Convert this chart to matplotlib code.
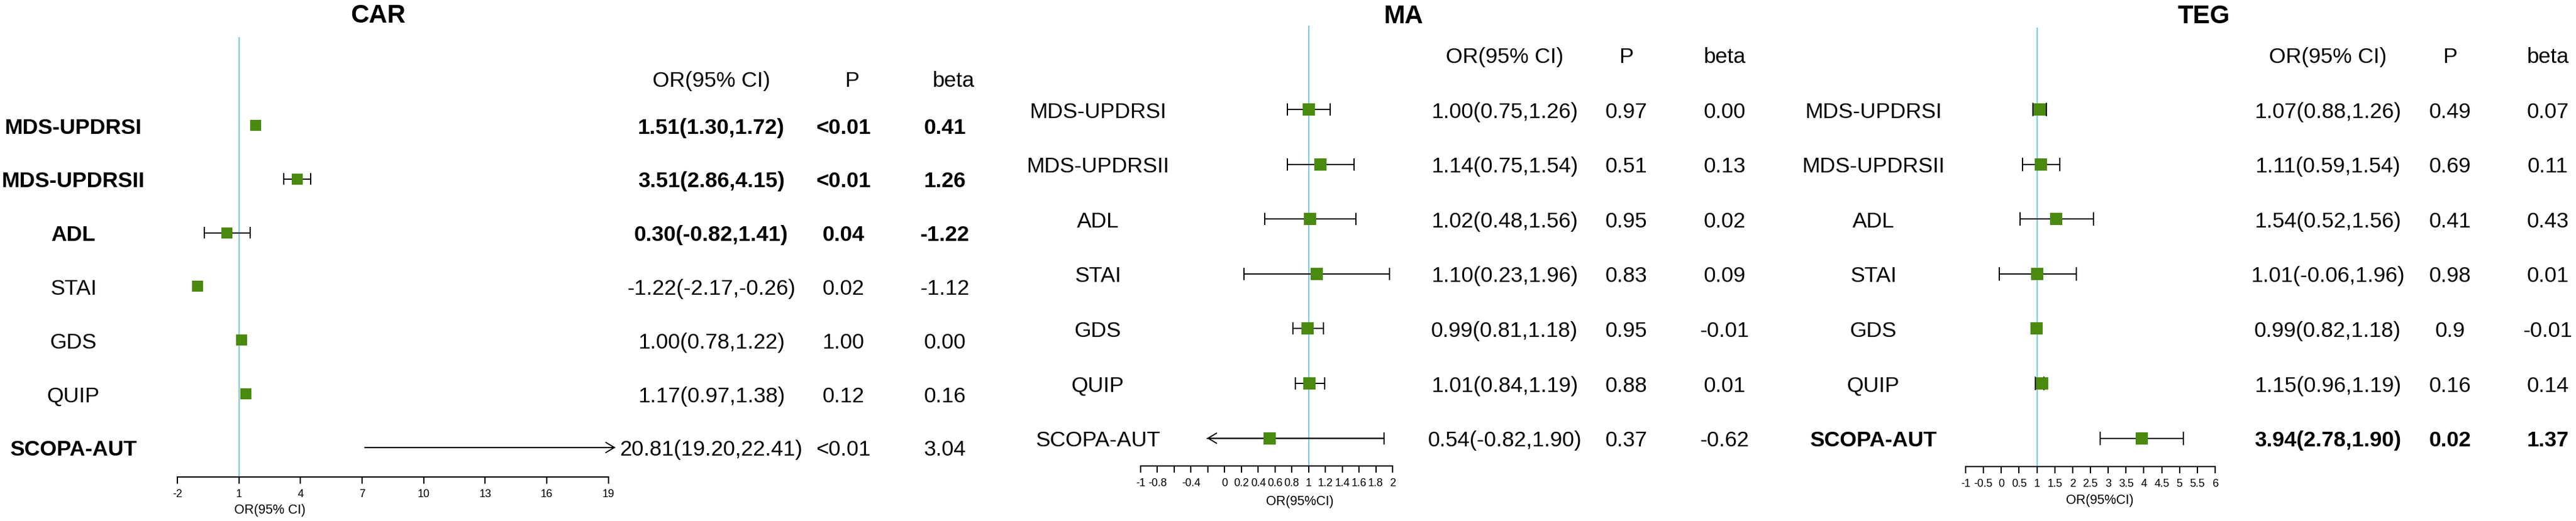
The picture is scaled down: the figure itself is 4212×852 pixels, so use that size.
import numpy as np
import matplotlib
matplotlib.use("Agg")
import matplotlib.pyplot as plt

plt.rcParams['font.family'] = ['Liberation Sans', 'DejaVu Sans']

W, H = 4212, 853

# ---------------- data ----------------
labels = ['MDS-UPDRSI', 'MDS-UPDRSII', 'ADL', 'STAI', 'GDS', 'QUIP', 'SCOPA-AUT']
nan = np.nan

# CAR (marker / whisker positions as drawn in the picture)
car_est = [1.82, 3.84, 0.42, -1.02, 1.12, 1.33, 20.81]
car_lo = [nan, 3.18, -0.70, nan, nan, nan, 7.13]
car_hi = [nan, 4.48, 1.54, nan, nan, nan, 22.41]
car_clip = (-2, 19.35)
car_or = ['1.51(1.30,1.72)', '3.51(2.86,4.15)', '0.30(-0.82,1.41)', '-1.22(-2.17,-0.26)',
          '1.00(0.78,1.22)', '1.17(0.97,1.38)', '20.81(19.20,22.41)']
car_p = ['<0.01', '<0.01', '0.04', '0.02', '1.00', '0.12', '<0.01']
car_beta = ['0.41', '1.26', '-1.22', '-1.12', '0.00', '0.16', '3.04']
car_label_bold = [True, True, True, False, False, False, True]
car_value_bold = [True, True, True, False, False, False, False]
car_ticks = [-2, 1, 4, 7, 10, 13, 16, 19]
car_ticklabels = ['-2', '1', '4', '7', '10', '13', '16', '19']

# MA
ma_est = [1.00, 1.14, 1.02, 1.10, 0.99, 1.01, 0.54]
ma_lo = [0.75, 0.75, 0.48, 0.23, 0.81, 0.84, -0.82]
ma_hi = [1.26, 1.54, 1.56, 1.96, 1.18, 1.19, 1.90]
ma_clip = (-0.21, 2.0)
ma_or = ['1.00(0.75,1.26)', '1.14(0.75,1.54)', '1.02(0.48,1.56)', '1.10(0.23,1.96)',
         '0.99(0.81,1.18)', '1.01(0.84,1.19)', '0.54(-0.82,1.90)']
ma_p = ['0.97', '0.51', '0.95', '0.83', '0.95', '0.88', '0.37']
ma_beta = ['0.00', '0.13', '0.02', '0.09', '-0.01', '0.01', '-0.62']
ma_label_bold = [False] * 7
ma_value_bold = [False] * 7
ma_ticks = [-1, -0.8, -0.6, -0.4, -0.2, 0, 0.2, 0.4, 0.6, 0.8, 1, 1.2, 1.4, 1.6, 1.8, 2]
ma_ticklabels = ['-1', '-0.8', '', '-0.4', '', '0', '0.2', '0.4', '0.6', '0.8', '1',
                 '1.2', '1.4', '1.6', '1.8', '2']

# TEG
teg_est = [1.07, 1.11, 1.54, 1.01, 0.99, 1.15, 3.94]
teg_lo = [0.88, 0.59, 0.52, -0.06, nan, 0.96, 2.78]
teg_hi = [1.26, 1.64, 2.58, 2.10, nan, 1.19, 5.10]
teg_clip = (-1, 6)
teg_or = ['1.07(0.88,1.26)', '1.11(0.59,1.54)', '1.54(0.52,1.56)', '1.01(-0.06,1.96)',
          '0.99(0.82,1.18)', '1.15(0.96,1.19)', '3.94(2.78,1.90)']
teg_p = ['0.49', '0.69', '0.41', '0.98', '0.9', '0.16', '0.02']
teg_beta = ['0.07', '0.11', '0.43', '0.01', '-0.01', '0.14', '1.37']
teg_label_bold = [False] * 6 + [True]
teg_value_bold = [False] * 6 + [True]
teg_ticks = [-1, -0.5, 0, 0.5, 1, 1.5, 2, 2.5, 3, 3.5, 4, 4.5, 5, 5.5, 6]
teg_ticklabels = ['-1', '-0.5', '0', '0.5', '1', '1.5', '2', '2.5', '3', '3.5', '4',
                  '4.5', '5', '5.5', '6']

headers = ['OR(95% CI)', 'P', 'beta']

# ---------------- style ----------------
GREEN = '#4a8a0e'
REF = '#7ccbd8'
FS = 25.5

fig = plt.figure(figsize=(W / 100, H / 100), dpi=100)
over = fig.add_axes([0, 0, 1, 1])
over.set_xlim(0, W)
over.set_ylim(H, 0)
over.axis('off')


def txt(x, yc, s, fs=FS, bold=False, ha='center'):
    em = fs * 100 / 72.0
    over.text(x, yc + 0.358 * em, s, fontsize=fs, ha=ha, va='baseline',
              fontweight='bold' if bold else 'normal', color='black')


def panel(title, est, lo, hi, clip, ticks, ticklabels, or_t, p_t, b_t, lbold, vbold, L):
    x0, x1 = L['px']
    xmin, xmax = ticks[0], ticks[-1]
    top, base = L['top'], L['base']
    y0, dy = L['rows']
    ax = fig.add_axes([x0 / W, 1 - base / H, (x1 - x0) / W, (base - top) / H])
    ax.set_xlim(xmin, xmax)
    ax.set_ylim((base - y0) / dy, (top - y0) / dy)
    ax.patch.set_alpha(0)
    for s in ['left', 'top', 'right']:
        ax.spines[s].set_visible(False)
    ax.spines['bottom'].set_linewidth(1.5)
    ax.set_yticks([])
    ax.set_xticks(ticks)
    ax.set_xticklabels(ticklabels)
    ax.tick_params(axis='x', direction='out', length=7.7, width=1.5, labelsize=13, pad=6)
    ax.axvline(1, color=REF, lw=1.6, zorder=1)

    c = L['cap'] / 2.0 / dy
    for k in range(len(est)):
        e, l, h = est[k], lo[k], hi[k]
        on_axis = xmin <= e <= xmax
        if np.isfinite(l) and np.isfinite(h):
            left = max(l, clip[0])
            right = min(h, clip[1])
            ax.plot([left, right], [k, k], color='black', lw=1.4, zorder=2,
                    solid_capstyle='butt', clip_on=False)
            for end, val, lim in [(left, l, clip[0]), (right, h, clip[1])]:
                clipped = (val < clip[0]) if lim == clip[0] else (val > clip[1])
                if clipped:
                    start = right if lim == clip[0] else left
                    ax.annotate('', xy=(end, k), xytext=(start, k),
                                arrowprops=dict(arrowstyle='->,head_length=0.5,head_width=0.3',
                                                lw=1.4, color='black', shrinkA=0, shrinkB=0,
                                                mutation_scale=20),
                                annotation_clip=False)
                elif on_axis:
                    ax.plot([end, end], [k - c, k + c], color='black', lw=1.4, zorder=2)
        if on_axis:
            ax.plot([e], [k], marker='s', ms=L['ms'], color=GREEN, mew=0, zorder=3,
                    linestyle='none')

    # texts
    txt(L['title'][0], L['title'][1], title, fs=30, bold=True)
    txt(L['or_h'], L['hy'], headers[0])
    txt(L['p_h'], L['hy'], headers[1])
    txt(L['b_h'], L['hy'], headers[2])
    for k in range(len(est)):
        yk = y0 + k * dy
        txt(L['lab'], yk, labels[k], bold=lbold[k])
        txt(L['or'], yk, or_t[k], bold=vbold[k])
        txt(L['p'], yk, p_t[k], bold=vbold[k])
        txt(L['b'], yk, b_t[k], bold=vbold[k])
    txt(L['xl'][0], L['xl'][1], 'OR(95% CI)' if title == 'CAR' else 'OR(95%CI)', fs=15.5)


car_L = dict(px=(290.2, 994.6), top=62, base=781, rows=(206, 87.8), cap=17, ms=13,
             title=(618, 22), hy=129, or_h=1163, p_h=1393, b_h=1559,
             lab=120, **{'or': 1163}, p=1379, b=1545, xl=(441, 832))
ma_L = dict(px=(1865, 2277), top=43, base=763, rows=(180, 89.6), cap=18, ms=14.4,
            title=(2295, 23), hy=90, or_h=2460, p_h=2659, b_h=2820,
            lab=1795, **{'or': 2460}, p=2659, b=2820, xl=(2125, 818))
teg_L = dict(px=(3214, 3622), top=46, base=764, rows=(180, 89.6), cap=20, ms=14.4,
             title=(3603, 23), hy=90, or_h=3806, p_h=4006, b_h=4166,
             lab=3063, **{'or': 3806}, p=4006, b=4166, xl=(3433, 816))

panel('CAR', car_est, car_lo, car_hi, car_clip, car_ticks, car_ticklabels,
      car_or, car_p, car_beta, car_label_bold, car_value_bold, car_L)
panel('MA', ma_est, ma_lo, ma_hi, ma_clip, ma_ticks, ma_ticklabels,
      ma_or, ma_p, ma_beta, ma_label_bold, ma_value_bold, ma_L)
panel('TEG', teg_est, teg_lo, teg_hi, teg_clip, teg_ticks, teg_ticklabels,
      teg_or, teg_p, teg_beta, teg_label_bold, teg_value_bold, teg_L)

fig.savefig('out.png', dpi=100)
